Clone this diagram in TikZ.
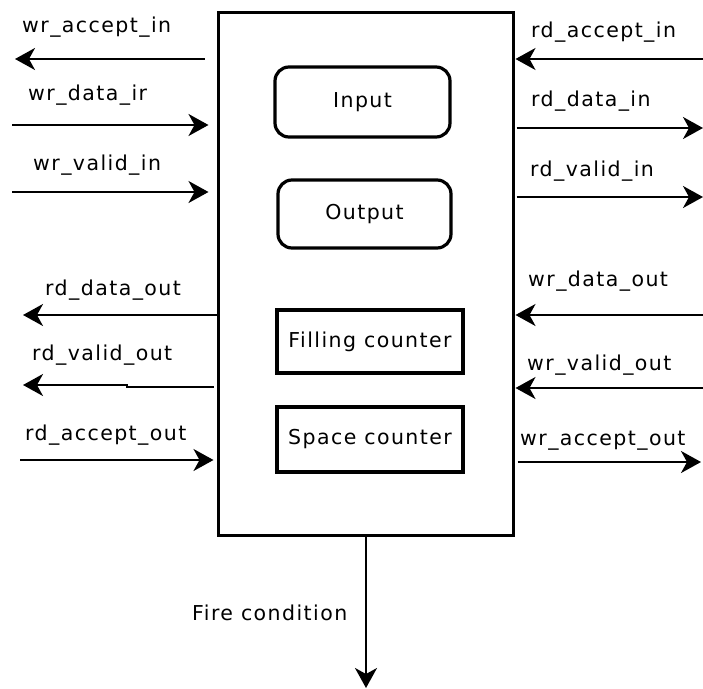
\documentclass[tikz,border=0pt]{standalone}
\usepackage{fontspec}
\setmainfont{DejaVu Sans}[LetterSpace=7]
\usetikzlibrary{arrows.meta}
\newcommand{\lblfont}{\fontsize{20.5}{24}\selectfont}
\begin{document}
\begin{tikzpicture}[x=1pt,y=-1pt,
  sig/.style={line width=2pt, -{Stealth[length=20pt,width=22pt,inset=6pt]}},
  lbl/.style={anchor=base west, inner sep=0pt, font=\lblfont},
  unit/.style={draw, line width=3.2pt, inner sep=0pt, outer sep=0pt, font=\lblfont},
  pill/.style={unit, rounded corners=14pt},
  counterbox/.style={unit}]
\useasboundingbox (0,0) rectangle (703,688);

% FIFO block and its internal parts
\node[draw, line width=3.2pt, minimum width=295pt, minimum height=523pt,
      inner sep=0pt, outer sep=0pt] (fifo) at (366,274) {};
\node[pill, minimum width=175pt, minimum height=70pt] (inp) at (362.5,102) {Input};
\node[pill, minimum width=173pt, minimum height=68pt] (outp) at (364.5,214) {Output};
\node[counterbox, minimum width=186pt, minimum height=63pt] (fill) at (370,341.5) {Filling counter};
\node[counterbox, minimum width=186pt, minimum height=65pt] (space) at (370,439.5) {Space counter};

% free ends of the port signals
\coordinate (wai) at (15,59);
\coordinate (wdi) at (12,125);
\coordinate (wvi) at (12,192);
\coordinate (rdo) at (23,315);
\coordinate (rvo) at (23,385);
\coordinate (rvj) at (127,387);
\coordinate (rao) at (20,460);
\coordinate (rai) at (703,59);
\coordinate (rdi) at (703,128);
\coordinate (rvi) at (703,197);
\coordinate (wdo) at (703,315);
\coordinate (wvo) at (703,388);
\coordinate (wao) at (701,462);
\coordinate (fire) at (366,688);

% write side (left)
\draw[sig, shorten <=14pt] (fifo.west |- wai) -- (wai);
\draw[sig, shorten >=10pt] (wdi) -- (fifo.west |- wdi);
\draw[sig, shorten >=10pt] (wvi) -- (fifo.west |- wvi);
\draw[sig, shorten <=1pt] (fifo.west |- rdo) -- (rdo);
\draw[sig, shorten <=5pt] (fifo.west |- rvj) -- (rvj) -- (rvj |- rvo) -- (rvo);
\draw[sig, shorten >=5pt] (rao) -- (fifo.west |- rao);

% read side (right)
\draw[sig, shorten >=2pt] (rai) -- (fifo.east |- rai);
\draw[sig, shorten <=3pt] (fifo.east |- rdi) -- (rdi);
\draw[sig, shorten <=3pt] (fifo.east |- rvi) -- (rvi);
\draw[sig, shorten >=2pt] (wdo) -- (fifo.east |- wdo);
\draw[sig, shorten >=2pt] (wvo) -- (fifo.east |- wvo);
\draw[sig, shorten <=4pt] (fifo.east |- wao) -- (wao);

% fire condition output
\draw[sig] (fifo.south -| fire) -- (fire);

% signal names
\node[lbl] (t1) at (22,32) {wr\_accept\_in};
\node[lbl] (t2) at (28,100) {wr\_data\_ir};
\node[lbl] (t3) at (33,170) {wr\_valid\_in};
\node[lbl] (t4) at (45,295) {rd\_data\_out};
\node[lbl] (t5) at (32,360) {rd\_valid\_out};
\node[lbl] (t6) at (25,440) {rd\_accept\_out};
\node[lbl] (t7) at (531,37) {rd\_accept\_in};
\node[lbl] (t8) at (531,106) {rd\_data\_in};
\node[lbl] (t9) at (530,176) {rd\_valid\_in};
\node[lbl] (t10) at (528,286) {wr\_data\_out};
\node[lbl] (t11) at (527,370) {wr\_valid\_out};
\node[lbl] (t12) at (520,445) {wr\_accept\_out};
\node[lbl] (t13) at (192,620) {Fire condition};
\end{tikzpicture}
\end{document}
